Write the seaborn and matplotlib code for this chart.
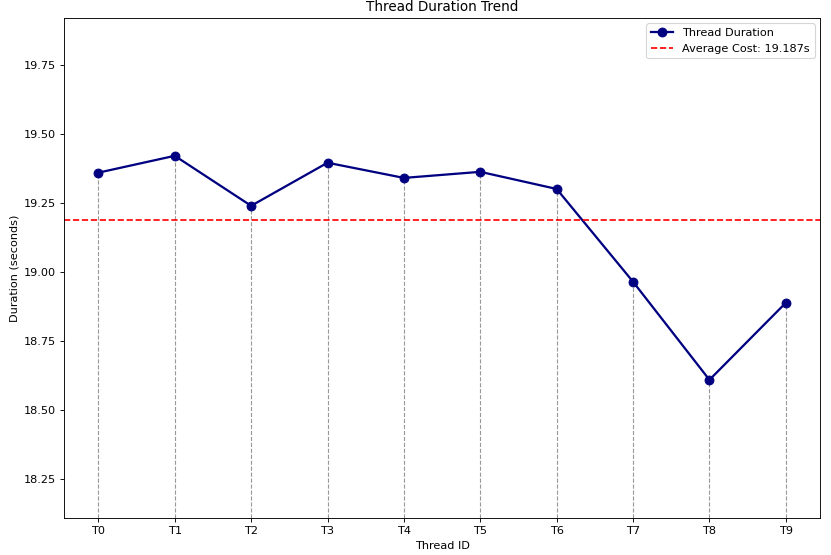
import pandas as pd
import seaborn as sns
import matplotlib
matplotlib.use('Agg')
import matplotlib.pyplot as plt

# Values
threads = ['T0', 'T1', 'T2', 'T3', 'T4', 'T5', 'T6', 'T7', 'T8', 'T9']
durations = [19.359, 19.420, 19.239, 19.395, 19.340, 19.362, 19.300, 18.964, 18.609, 18.888]
avg_cost = 19.187

df = pd.DataFrame({'thread': threads, 'duration': durations})
df['pos'] = range(len(df))

DPI = 81
fig, ax = plt.subplots(figsize=(831 / DPI, 555.3 / DPI), dpi=DPI)
plt.subplots_adjust(left=0.077, right=0.987, top=0.9676, bottom=0.0667)

ymin = min(durations) - 0.5
ymax = max(durations) + 0.5

# dashed drop lines from the bottom to each point
ax.vlines(df['pos'], ymin, df['duration'], colors='gray', linestyles='--', linewidth=1, alpha=0.8)

sns.lineplot(data=df, x='pos', y='duration', marker='o', color='navy', linewidth=2,
             markersize=8, markeredgecolor='navy', label='Thread Duration', ax=ax)
ax.axhline(avg_cost, color='red', linestyle='--', linewidth=1.5, label=f'Average Cost: {avg_cost:.3f}s')

ax.set_ylim(ymin, ymax)
ax.set_xticks(df['pos'])
ax.set_xticklabels(threads)
ax.set_xlabel('Thread ID')
ax.set_ylabel('Duration (seconds)')
ax.set_title('Thread Duration Trend')
ax.legend(loc='upper right')

fig.savefig('out.png', dpi=DPI)
